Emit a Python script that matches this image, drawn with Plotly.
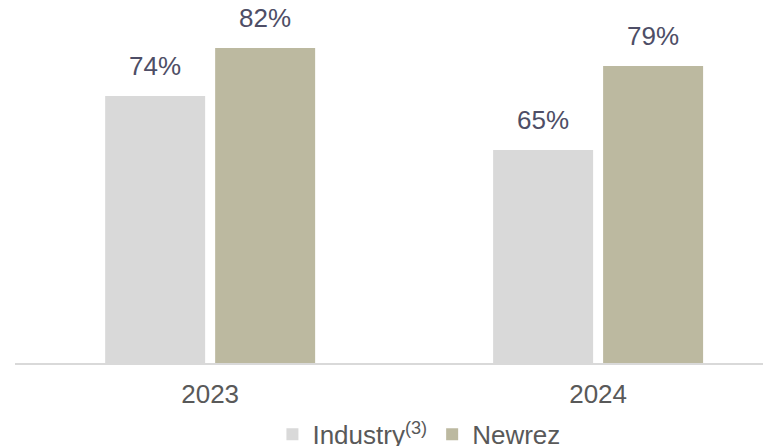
import plotly.graph_objects as go

categories = ["2023", "2024"]
industry = [74, 65]
newrez = [82, 79]
series_names = ["Industry<sup>(3)</sup>", "Newrez"]
colors = ["#d9d9d9", "#bcb9a0"]

label_color = "#4e4e66"
font_family = "Liberation Sans, Arial, sans-serif"

fig = go.Figure()
for name, vals, col in zip(series_names, [industry, newrez], colors):
    fig.add_trace(go.Bar(
        x=categories, y=vals, name=name, marker_color=col,
        marker_line_width=0, cliponaxis=False,
    ))

# value labels above each bar (category index on the category axis)
offsets = [-55, 55]
for vals, dx in zip([industry, newrez], offsets):
    for i, v in enumerate(vals):
        fig.add_annotation(x=i, y=v, xref="x", yref="y", text=f"{v}%", showarrow=False,
                           xshift=dx, yanchor="bottom", yshift=13,
                           font=dict(size=26, color=label_color, family=font_family))

fig.update_layout(
    width=778, height=446,
    margin=dict(l=15, r=15, t=0, b=83, autoexpand=False),
    paper_bgcolor="white", plot_bgcolor="white",
    barmode="group", bargap=0.433, bargroupgap=0.0909,
    font=dict(family=font_family, size=26, color="#595959"),
    showlegend=True,
    legend=dict(orientation="h", x=0.54, xanchor="center", y=-0.132, yanchor="top",
                font=dict(size=26, color="#595959"), itemwidth=30,
                traceorder="normal", bgcolor="rgba(0,0,0,0)"),
)
fig.update_xaxes(type="category", range=[-0.503, 1.425], showline=True,
                 linecolor="#d9d9d9", linewidth=2, ticks="", showgrid=False,
                 tickfont=dict(size=26, color="#595959"), ticklabelstandoff=7)
fig.update_yaxes(range=[29.5, 90], visible=False, showgrid=False)

fig.write_html("out.html")
